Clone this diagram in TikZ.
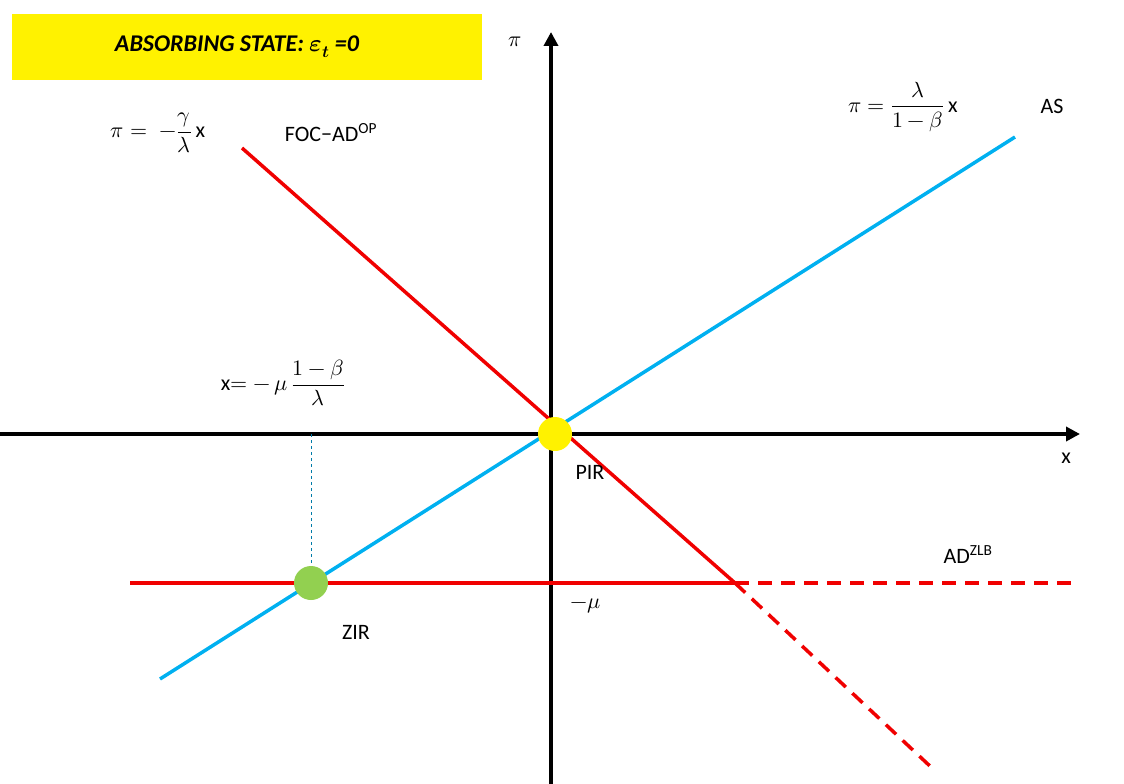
\documentclass[tikz,border=0pt]{standalone}
\usepackage{fontspec}
\setmainfont{Carlito}
\usepackage{unicode-math}
\usetikzlibrary{arrows.meta}
\definecolor{myblue}{RGB}{0,176,240}
\definecolor{myred}{RGB}{240,0,0}
\definecolor{mygreen}{RGB}{146,208,80}
\begin{document}
\begin{tikzpicture}[x=1pt,y=-1pt,
  lbl/.style={font=\fontsize{22}{26}\selectfont, inner sep=0pt},
  redl/.style={myred, line width=3.5pt},
  axis/.style={black, line width=3.5pt, -{Triangle[length=14pt,width=14pt]}}]
\useasboundingbox (0,0) rectangle (1124,784);
\fill[yellow] (12,14) rectangle (482,80);
\node[lbl, font=\fontsize{24}{28}\selectfont\bfseries\itshape] (title) at (237,47) {ABSORBING STATE: $\symbfit{\varepsilon_t}$ =0};
\coordinate (yb) at (551,784); \coordinate (yt) at (551,32);
\coordinate (xl) at (0,434); \coordinate (xr) at (1080,434);
\draw[axis] (yb) -- (yt);
\draw[axis] (xl) -- (xr);
\node[lbl] (pi) at (515,42) {$\pi$};
\node[lbl] (xlab) at (1066,458) {x};
\coordinate (f1) at (242,148); \coordinate (kink) at (735,583); \coordinate (f2) at (932,768);
\coordinate (h1) at (130,583); \coordinate (h2) at (1072,583);
\coordinate (a1) at (160,679); \coordinate (a2) at (1015,137);
\draw[redl] (h1) -- (kink);
\draw[redl, dash pattern=on 14pt off 9pt] (kink) -- (h2);
\draw[redl] (f1) -- (kink);
\draw[redl, dash pattern=on 14pt off 9pt] (kink) -- (f2);
\draw[myblue, line width=3.5pt] (a1) -- (a2);
\coordinate (vt) at (311,434);
\node[circle, fill=mygreen, minimum size=34pt, inner sep=0pt] (zir) at (311,583) {};
\draw[myblue!70!black, dashed, thin] (vt) -- (zir);
\node[circle, fill=yellow, minimum size=34pt, inner sep=0pt] (pir) at (555,434) {};
\node[lbl] (pirl) at (590,472) {PIR};
\node[lbl] (zirl) at (356,632) {ZIR};
\node[lbl] (mu) at (586,606) {$-\mu$};
\node[lbl] (adz) at (968,555) {AD\textsuperscript{ZLB}};
\node[lbl] (as) at (1052,106) {AS};
\node[lbl] (aseq) at (903,107) {$\pi = \dfrac{\lambda}{1-\beta}\,$x};
\node[lbl] (foceq) at (158,133) {$\pi =\; -\dfrac{\gamma}{\lambda}\,$x};
\node[lbl] (foc) at (331,133) {FOC−AD\textsuperscript{OP}};
\node[lbl] (xeq) at (283,383) {x$=-\,\mu\,\dfrac{1-\beta}{\lambda}$};
\end{tikzpicture}
\end{document}
